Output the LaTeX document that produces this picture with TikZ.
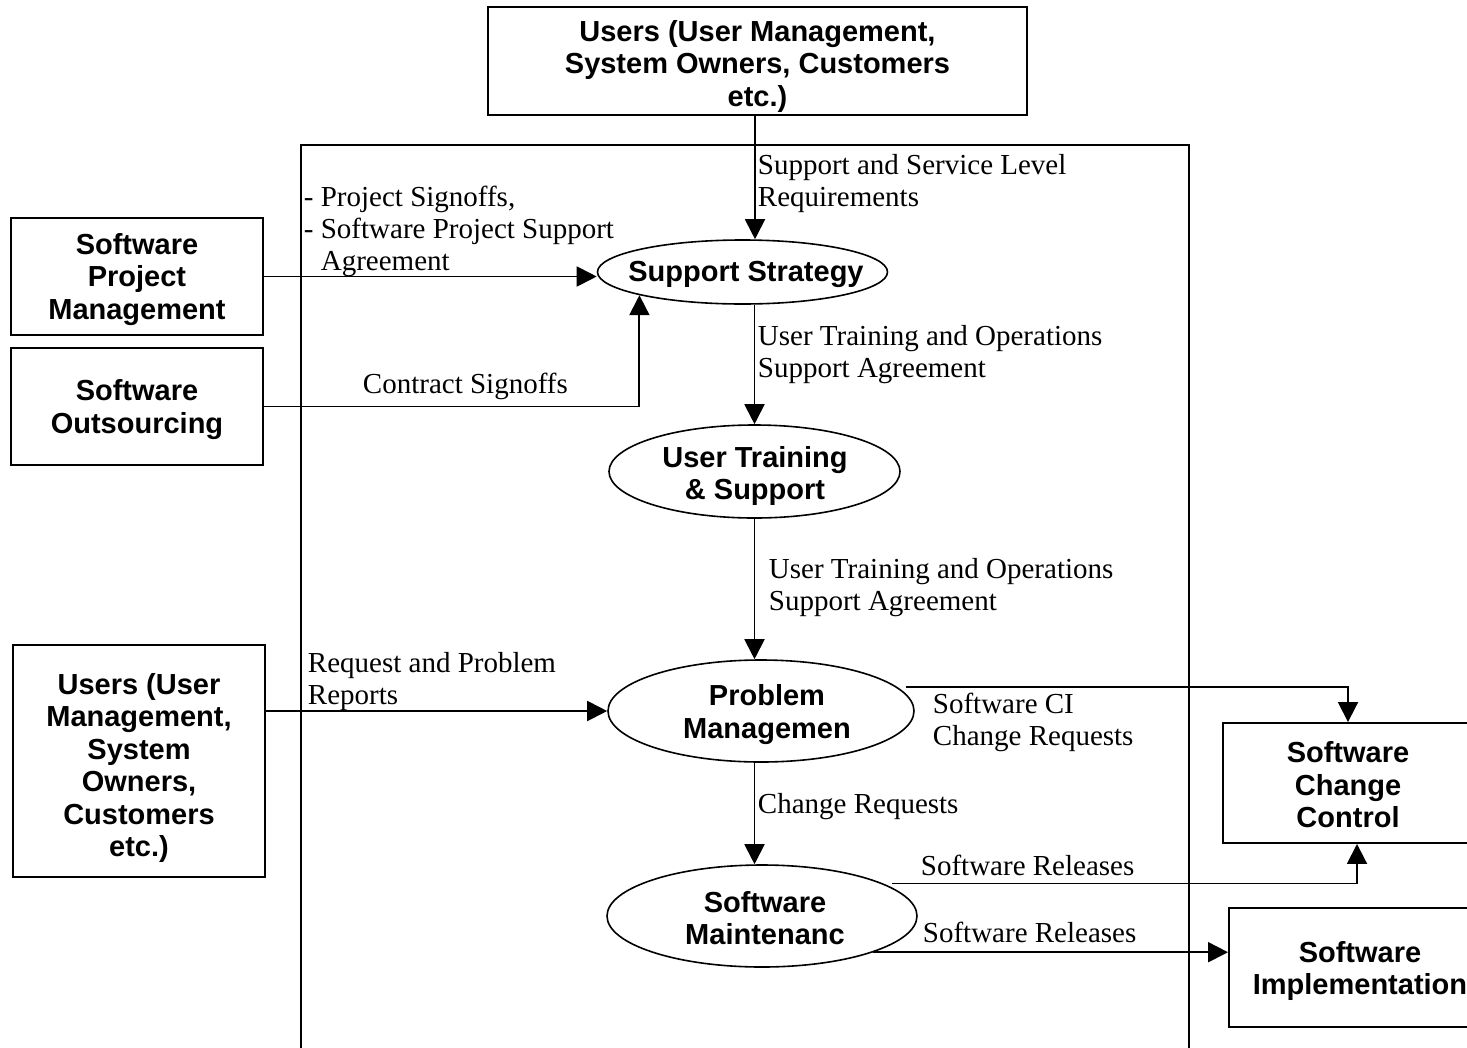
\documentclass[tikz,border=0pt]{standalone}
\usepackage{fontspec}
\setmainfont{Liberation Serif}
\newfontfamily\boxfont{Liberation Sans}
\usetikzlibrary{shapes.geometric,arrows.meta}
\begin{document}
\begin{tikzpicture}[x=1pt,y=-1pt,
  line width=1.9pt,
  title/.style={font=\boxfont\bfseries\fontsize{29}{32.5}\selectfont, align=center, inner sep=0pt},
  proc/.style={draw, rectangle, inner sep=0pt},
  bub/.style={draw, ellipse, inner sep=0pt, line width=1.6pt},
  flow/.style={font=\fontsize{29}{32}\selectfont, align=left, anchor=north west, inner sep=0pt},
  arr/.style={-{Triangle[length=20pt,width=20pt]}},
]
\clip (0,0) rectangle (1467,1047);
\fill[white] (0,0) rectangle (1467,1047);

% process frame (open at the bottom)
\draw (301,1060) -- (301,145) -- (1189,145) -- (1189,1060);

% external entities
\node[proc, minimum width=539pt, minimum height=108pt] (usr) at (757.5,61) {};
\node[title] (usr-t) at (757.5,66) {Users (User Management,\\System Owners, Customers\\etc.)};
\node[proc, minimum width=252pt, minimum height=117pt] (spm) at (137,276.5) {};
\node[title] (spm-t) at (137,279.5) {Software\\Project\\Management};
\node[proc, minimum width=252pt, minimum height=117pt] (so) at (137,406.5) {};
\node[title] (so-t) at (137,409.5) {Software\\Outsourcing};
\node[proc, minimum width=252pt, minimum height=232pt] (lu) at (139,761) {};
\node[title] (lu-t) at (139,768) {Users (User\\Management,\\System\\Owners,\\Customers\\etc.)};
\node[proc, minimum width=250pt, minimum height=120pt] (scc) at (1348,783) {};
\node[title] (scc-t) at (1348,785) {Software\\Change\\Control};
\node[proc, minimum width=262pt, minimum height=119pt] (si) at (1360,967.5) {};
\node[title] (si-t) at (1360,971) {Software\\Implementation};

% processes
\node[bub, minimum width=290pt, minimum height=64pt] (ss) at (742.5,272) {};
\node[title] (ss-t) at (746,274) {Support Strategy};
\node[bub, minimum width=291pt, minimum height=93pt] (ut) at (754.5,471.5) {};
\node[title] (ut-t) at (755,476) {User Training\\\& Support};
\node[bub, minimum width=306pt, minimum height=102pt] (pm) at (761,711) {};
\node[title] (pm-t) at (767,714.5) {Problem\\Managemen};
\node[bub, minimum width=310pt, minimum height=102pt] (sm) at (762,916) {};
\node[title] (sm-t) at (765,918) {Software\\Maintenanc};

% flows
\draw[arr] ([xshift=-2.5pt]usr.south) -- ([xshift=-2.5pt]usr.south |- ss.north);
\draw[arr] (spm.east) -- (spm.east -| ss.west);
\draw[arr] (so.east) -| (ss.south west);
\draw[arr] (ut.north |- ss.south) -- (ut.north);
\draw[arr] (ut.south) -- (ut.south |- pm.north);
\draw[arr] (lu.east |- pm.west) -- (pm.west);
\draw[arr] ([xshift=9pt]pm.10) -| (scc.north);
\draw[arr] (ut.south |- pm.south) -- (ut.south |- sm.north);
\draw[arr] ([xshift=9pt]sm.15) -| ([xshift=9pt]scc.south);
\draw[arr] (sm.-18) -- (sm.-18 -| si.west);

% flow labels
\node[flow] (l1) at (303,185) {- Project Signoffs,\\- Software Project Support\\\hphantom{- }Agreement};
\node[flow] (l2) at (757,153) {Support and Service Level\\Requirements};
\node[flow] (l3) at (757,324) {User Training and Operations\\Support Agreement};
\node[flow] (l4) at (768,557) {User Training and Operations\\Support Agreement};
\node[flow] (l5) at (362,372) {Contract Signoffs};
\node[flow] (l6) at (307,651) {Request and Problem\\Reports};
\node[flow] (l7) at (932,692) {Software CI\\Change Requests};
\node[flow] (l8) at (757,792) {Change Requests};
\node[flow] (l9) at (920,854) {Software Releases};
\node[flow] (l10) at (922,921) {Software Releases};
\end{tikzpicture}
\end{document}
